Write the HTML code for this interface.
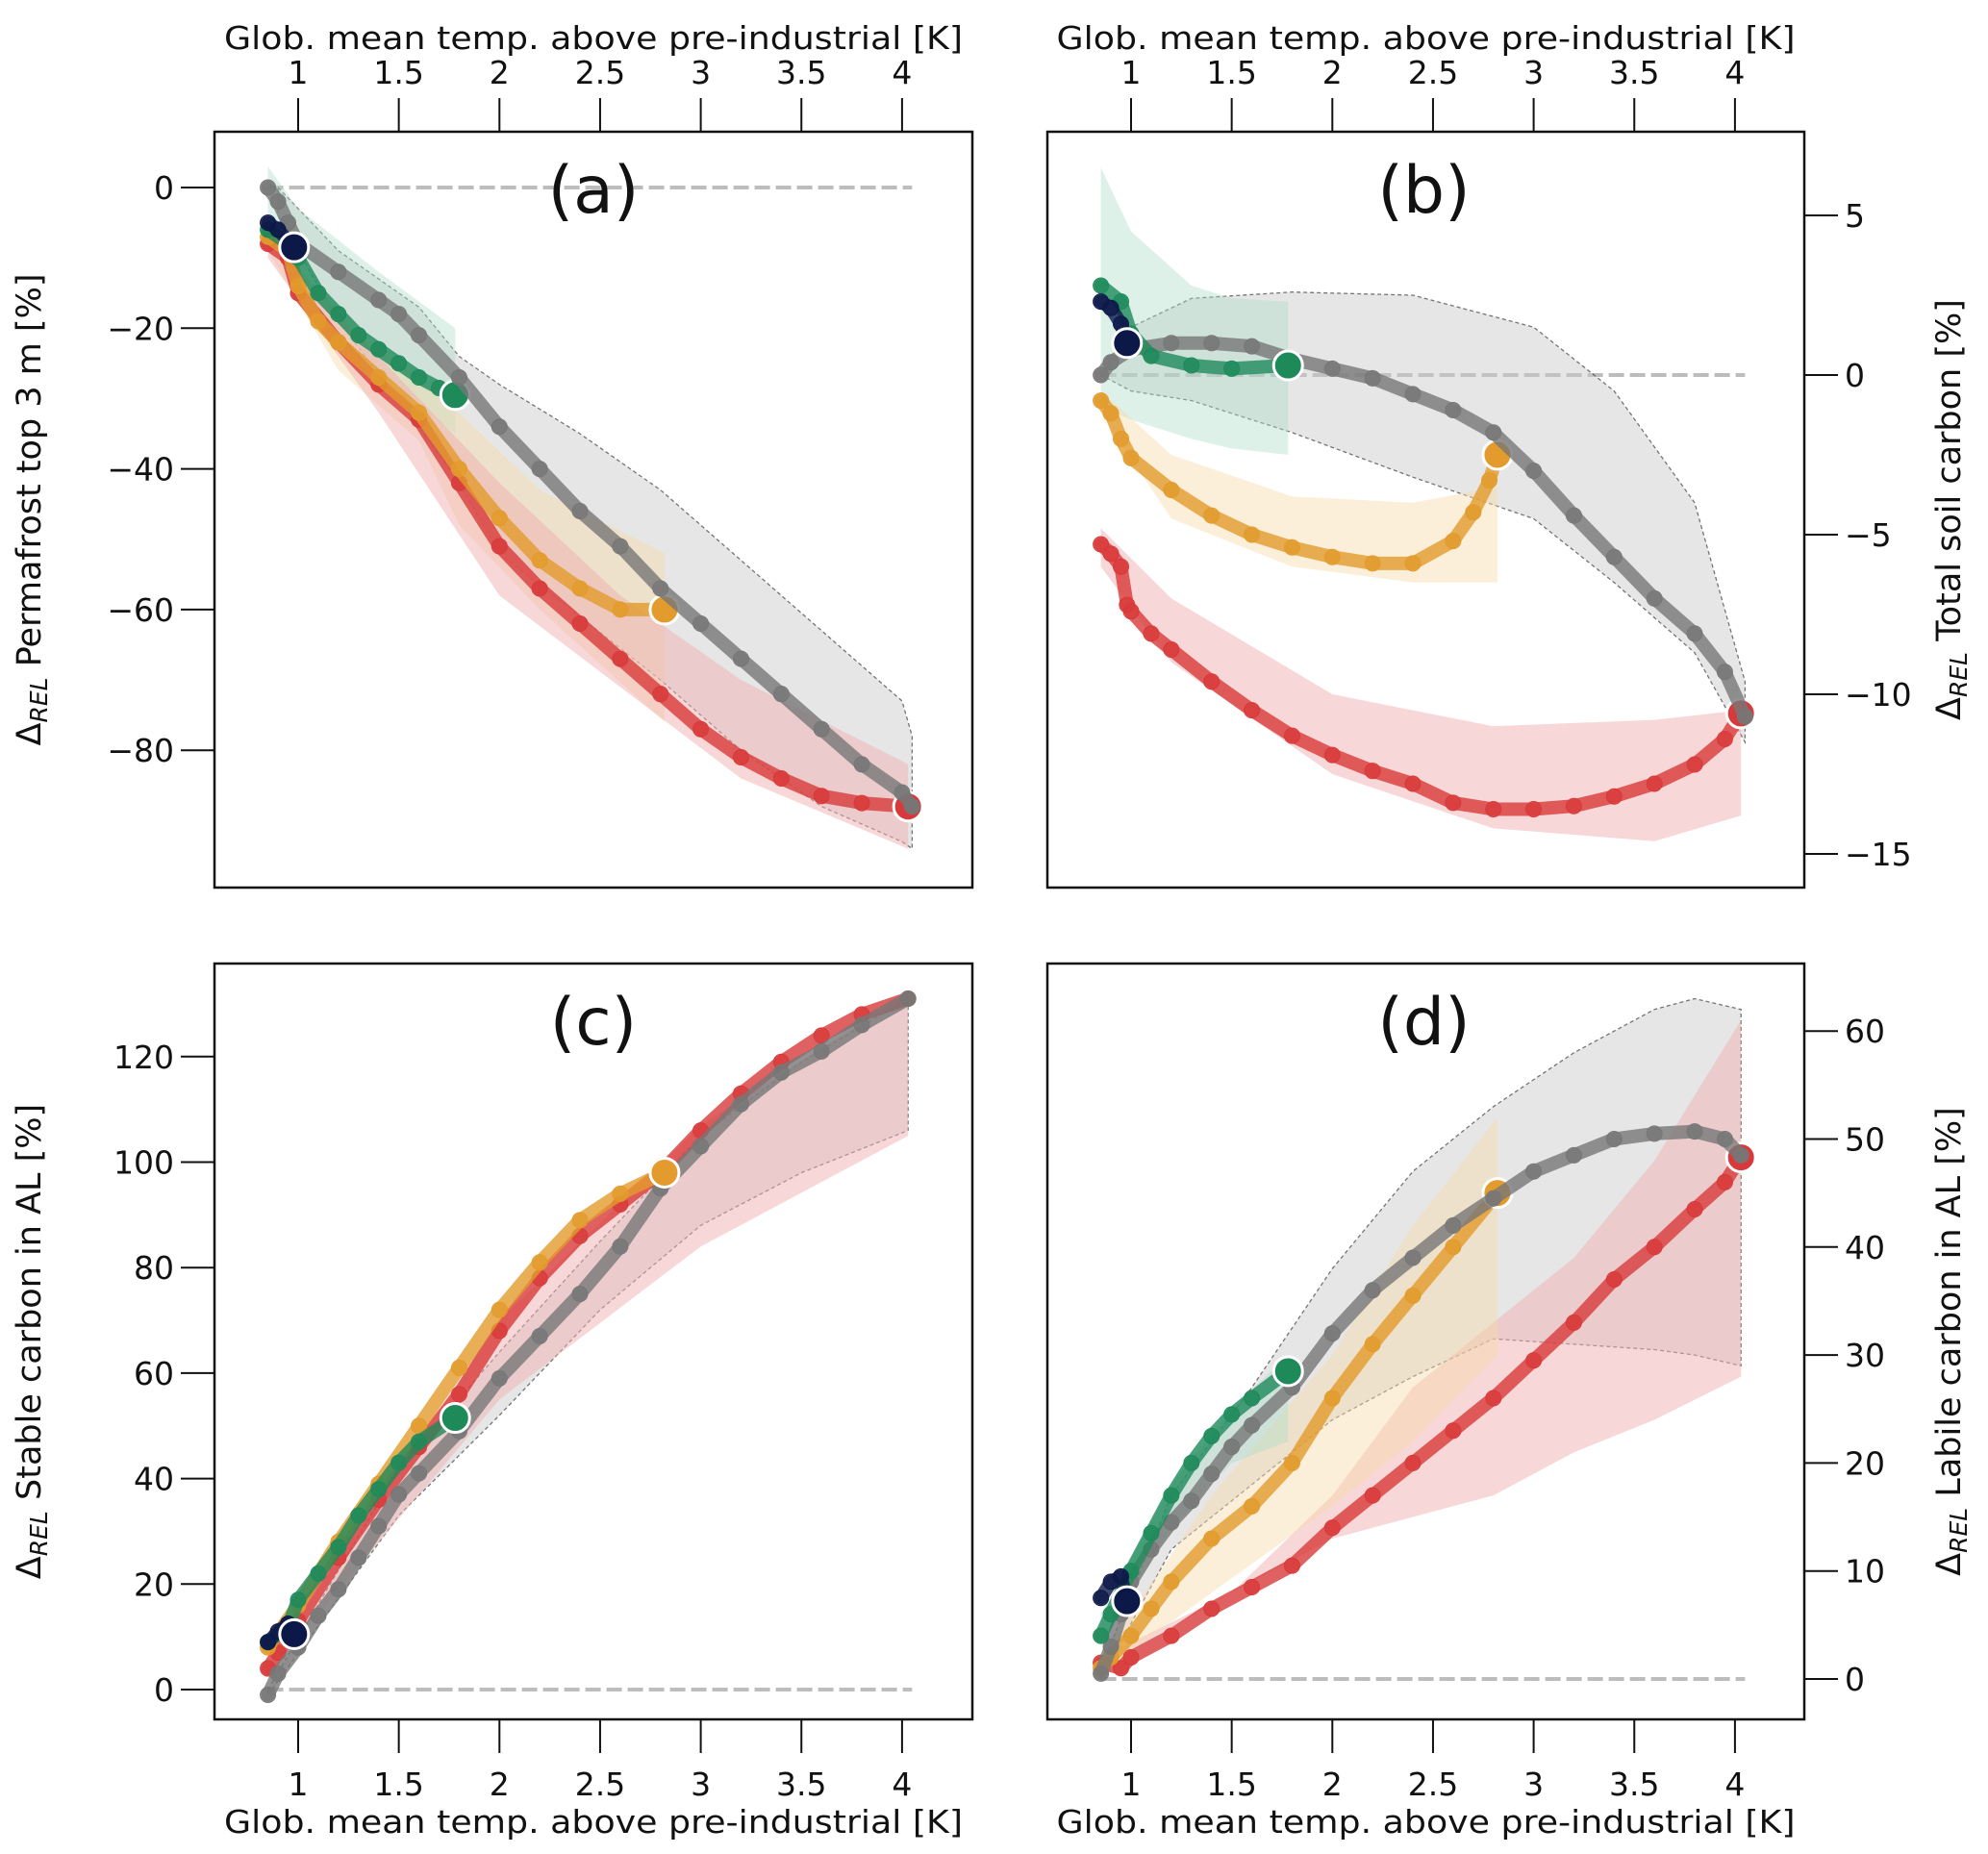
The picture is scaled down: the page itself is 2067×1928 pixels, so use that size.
<!DOCTYPE html>
<html><head><meta charset="utf-8"><style>
html,body{margin:0;padding:0;background:#fff}
svg{display:block}
text{font-family:"DejaVu Sans","Liberation Sans",sans-serif;fill:#111}
</style></head><body>
<svg id="fig" width="2067" height="1928" viewBox="0 0 2067 1928" xmlns="http://www.w3.org/2000/svg"></svg>
<script>
// ===== shared ticks =====
const xTicks = [1, 1.5, 2, 2.5, 3, 3.5, 4];
const xTickLabels = ["1", "1.5", "2", "2.5", "3", "3.5", "4"];

// ===== panel (a) =====
const aGrayX = [0.85,0.9,0.95,1.0,1.2,1.4,1.5,1.6,1.8,2.0,2.2,2.4,2.6,2.8,3.0,3.2,3.4,3.6,3.8,4.0,4.05];
const aGrayY = [0,-2,-5,-8,-12,-16,-18,-21,-27,-34,-40,-46,-51,-57,-62,-67,-72,-77,-82,-86,-88];
const aNavyX = [0.85,0.9,0.98];
const aNavyY = [-5,-6,-8.5];
const aGreenX = [0.85,0.95,1.0,1.1,1.2,1.3,1.4,1.5,1.6,1.7,1.78];
const aGreenY = [-6,-8,-10,-15,-18,-21,-23,-25,-27,-28.5,-29.5];
const aOrangeX = [0.85,0.95,1.0,1.1,1.2,1.4,1.6,1.8,2.0,2.2,2.4,2.6,2.82];
const aOrangeY = [-7,-9,-14,-19,-22,-27,-32,-40,-47,-53,-57,-60,-60];
const aRedX = [0.85,0.95,1.0,1.2,1.4,1.6,1.8,2.0,2.2,2.4,2.6,2.8,3.0,3.2,3.4,3.6,3.8,4.03];
const aRedY = [-8,-10,-15,-22,-28,-33,-42,-51,-57,-62,-67,-72,-77,-81,-84,-86.5,-87.5,-88];
const aGrayBandX = [0.9,1.2,1.6,1.8,2.0,2.4,2.8,3.2,3.6,4.0,4.05];
const aGrayBandHi = [0,-9,-17,-24,-28,-35,-43,-53,-63,-73,-78];
const aGrayBandLo = [-4,-19,-34,-42,-52,-61,-70,-80,-88,-93,-94];
const aGreenBandX = [0.85,1.0,1.4,1.78];
const aGreenBandHi = [3,-3,-12,-20];
const aGreenBandLo = [-6,-15,-27,-35];
const aOrangeBandX = [0.85,1.2,1.6,1.8,2.2,2.82];
const aOrangeBandHi = [-6,-18,-27,-32,-43,-52];
const aOrangeBandLo = [-9,-26,-36,-48,-60,-76];
const aRedBandX = [0.85,1.4,2.0,2.6,3.2,4.03];
const aRedBandHi = [-7,-24,-42,-58,-70,-82];
const aRedBandLo = [-10,-32,-58,-71,-84,-94];
const aYTicks = [0,-20,-40,-60,-80];

// ===== panel (b) =====
const bGrayX = [0.85,0.9,1.0,1.2,1.4,1.6,1.8,2.0,2.2,2.4,2.6,2.8,3.0,3.2,3.4,3.6,3.8,3.95,4.05];
const bGrayY = [0,0.4,0.8,1.0,1.0,0.9,0.5,0.2,-0.1,-0.6,-1.1,-1.8,-3.0,-4.4,-5.7,-7.0,-8.1,-9.3,-10.7];
const bNavyX = [0.85,0.9,0.95,0.98];
const bNavyY = [2.3,2.1,1.6,1.0];
const bGreenX = [0.85,0.95,1.0,1.1,1.3,1.5,1.78];
const bGreenY = [2.8,2.3,1.3,0.6,0.3,0.2,0.3];
const bOrangeX = [0.85,0.9,0.95,1.0,1.2,1.4,1.6,1.8,2.0,2.2,2.4,2.6,2.7,2.78,2.82];
const bOrangeY = [-0.8,-1.2,-2.0,-2.6,-3.6,-4.4,-5.0,-5.4,-5.7,-5.9,-5.9,-5.2,-4.3,-3.3,-2.5];
const bRedX = [0.85,0.9,0.95,0.98,1.0,1.1,1.2,1.4,1.6,1.8,2.0,2.2,2.4,2.6,2.8,3.0,3.2,3.4,3.6,3.8,3.95,4.03];
const bRedY = [-5.3,-5.6,-6.0,-7.2,-7.4,-8.1,-8.6,-9.6,-10.5,-11.3,-11.9,-12.4,-12.8,-13.4,-13.6,-13.6,-13.5,-13.2,-12.8,-12.2,-11.4,-10.6];
const bGrayBandX = [0.85,1.0,1.3,1.8,2.4,3.0,3.4,3.8,4.05];
const bGrayBandHi = [0,1.5,2.4,2.6,2.5,1.5,-0.5,-4,-9.6];
const bGrayBandLo = [0,-0.5,-0.8,-1.8,-3.2,-4.5,-6.5,-8.7,-11.5];
const bGreenBandX = [0.85,1.0,1.3,1.5,1.78];
const bGreenBandHi = [6.5,4.5,2.8,2.4,2.3];
const bGreenBandLo = [-1,-1.4,-2.0,-2.3,-2.5];
const bOrangeBandX = [0.85,1.2,1.8,2.4,2.82];
const bOrangeBandHi = [-0.5,-2.5,-3.8,-4.0,-3.5];
const bOrangeBandLo = [-1.2,-4.5,-6.0,-6.5,-6.5];
const bRedBandX = [0.85,1.2,2.0,2.8,3.6,4.03];
const bRedBandHi = [-4.8,-7,-10,-11,-10.8,-10.5];
const bRedBandLo = [-6,-9,-12.5,-14.2,-14.6,-13.8];
const bYTicks = [5,0,-5,-10,-15];

// ===== panel (c) =====
const cGrayX = [0.85,0.9,1.0,1.1,1.2,1.3,1.4,1.5,1.6,1.8,2.0,2.2,2.4,2.6,2.8,3.0,3.2,3.4,3.6,3.8,4.03];
const cGrayY = [-1,3,8,14,19,25,31,37,41,49,59,67,75,84,95,103,111,117,121,126,131];
const cNavyX = [0.85,0.9,0.95,0.98];
const cNavyY = [9,11,12.5,10.5];
const cGreenX = [0.85,0.95,1.0,1.1,1.2,1.3,1.4,1.5,1.6,1.78];
const cGreenY = [9,12,17,22,27,33,38,43,47,51.5];
const cOrangeX = [0.85,1.0,1.2,1.4,1.6,1.8,2.0,2.2,2.4,2.6,2.82];
const cOrangeY = [8,16,28,39,50,61,72,81,89,94,98];
const cRedX = [0.85,0.9,1.0,1.2,1.4,1.6,1.8,2.0,2.2,2.4,2.6,2.8,3.0,3.2,3.4,3.6,3.8,4.03];
const cRedY = [4,7,13,25,36,46,56,68,78,86,92,98,106,113,119,124,128,131];
const cGrayBandX = [0.85,1.5,2.0,2.5,3.0,3.5,4.03];
const cGrayBandHi = [0,42,64,85,105,119,131];
const cGrayBandLo = [-1,33,52,72,88,98,106];
const cRedBandX = [0.85,2.0,3.0,4.03];
const cRedBandHi = [5,70,107,132];
const cRedBandLo = [3,55,84,105];
const cYTicks = [0,20,40,60,80,100,120];

// ===== panel (d) =====
const dGrayX = [0.85,0.9,0.95,1.0,1.1,1.2,1.3,1.4,1.5,1.6,1.8,2.0,2.2,2.4,2.6,2.8,3.0,3.2,3.4,3.6,3.8,3.95,4.03];
const dGrayY = [0.5,3,6,9,12,14.5,16.5,19,21.5,23.5,27,32,36,39,42,44.5,47,48.5,50,50.5,50.7,50,48.5];
const dNavyX = [0.85,0.9,0.95,0.98];
const dNavyY = [7.5,9,9.5,7.2];
const dGreenX = [0.85,0.9,1.0,1.1,1.2,1.3,1.4,1.5,1.6,1.78];
const dGreenY = [4,6,10,13.5,17,20,22.5,24.5,26,28.5];
const dOrangeX = [0.85,0.9,1.0,1.1,1.2,1.4,1.6,1.8,2.0,2.2,2.4,2.6,2.82];
const dOrangeY = [1,2,4,6.5,9,13,16,20,26,31,35.5,40,45];
const dRedX = [0.85,0.95,1.0,1.2,1.4,1.6,1.8,2.0,2.2,2.4,2.6,2.8,3.0,3.2,3.4,3.6,3.8,3.95,4.03];
const dRedY = [1.5,1,2,4,6.5,8.5,10.5,14,17,20,23,26,29.5,33,37,40,43.5,46,48.3];
const dGrayBandX = [0.85,1.2,1.6,2.0,2.4,2.8,3.2,3.6,3.8,4.03];
const dGrayBandHi = [1,17,27,38,47,53,58,62,63,62];
const dGrayBandLo = [0,12,18,24,28,31.5,31,30.5,30,29];
const dGreenBandX = [0.85,1.2,1.5,1.78];
const dGreenBandHi = [6,18,25,30];
const dGreenBandLo = [3,14,20,22];
const dOrangeBandX = [0.85,1.4,2.0,2.4,2.82];
const dOrangeBandHi = [2,17,30,42,52];
const dOrangeBandLo = [0.5,8,16,22,30];
const dRedBandX = [0.85,1.5,2.0,2.4,2.8,3.2,3.6,4.03];
const dRedBandHi = [2,8,17,27,33,39,48,61];
const dRedBandLo = [1,8,13,15,17,21,24,28];
const dYTicks = [0,10,20,30,40,50,60];

const NS = "http://www.w3.org/2000/svg";
const svg = document.getElementById('fig');
function mk(tag, attrs, parent){const e=document.createElementNS(NS,tag);for(const k in attrs)e.setAttribute(k,attrs[k]);(parent||svg).appendChild(e);return e;}

const COL = {gray:'#777777', navy:'#0c1848', green:'#1e8a5a', orange:'#e29b2c', red:'#d8393a'};
const BAND = {gray:['#c8c8c8',0.45], green:['#a9dcc6',0.4], orange:['#f7dcaa',0.45], red:['#f0b0b0',0.5], navy:['#9aa3c2',0.4]};

function makeX(offset){ return v => offset + 310 + (v-1)*209.3; }

const panels = [
 {id:'a', L:223, T:137, R:1011, B:923, x:makeX(0), y:v=>195-(v/20)*146.3, ticks:aYTicks, side:'left', top:true,
  ylab:' Permafrost top 3 m [%]', noEnd:[],
  bands:[['gray',aGrayBandX,aGrayBandHi,aGrayBandLo,true],['green',aGreenBandX,aGreenBandHi,aGreenBandLo],['orange',aOrangeBandX,aOrangeBandHi,aOrangeBandLo],['red',aRedBandX,aRedBandHi,aRedBandLo]],
  series:[['red',aRedX,aRedY],['orange',aOrangeX,aOrangeY],['green',aGreenX,aGreenY],['gray',aGrayX,aGrayY],['navy',aNavyX,aNavyY]]},
 {id:'b', L:1089, T:137, R:1876, B:923, x:makeX(866), y:v=>390-(v/5)*166, ticks:bYTicks, side:'right', top:true,
  ylab:' Total soil carbon [%]', noEnd:[],
  bands:[['gray',bGrayBandX,bGrayBandHi,bGrayBandLo,true],['green',bGreenBandX,bGreenBandHi,bGreenBandLo],['orange',bOrangeBandX,bOrangeBandHi,bOrangeBandLo],['red',bRedBandX,bRedBandHi,bRedBandLo]],
  series:[['red',bRedX,bRedY],['orange',bOrangeX,bOrangeY],['gray',bGrayX,bGrayY],['green',bGreenX,bGreenY],['navy',bNavyX,bNavyY]]},
 {id:'c', L:223, T:1002, R:1011, B:1788, x:makeX(0), y:v=>1757-(v/20)*109.7, ticks:cYTicks, side:'left', top:false,
  ylab:' Stable carbon in AL [%]', noEnd:['red'],
  bands:[['gray',cGrayBandX,cGrayBandHi,cGrayBandLo,true],['red',cRedBandX,cRedBandHi,cRedBandLo]],
  series:[['red',cRedX,cRedY],['gray',cGrayX,cGrayY],['orange',cOrangeX,cOrangeY],['green',cGreenX,cGreenY],['navy',cNavyX,cNavyY]]},
 {id:'d', L:1089, T:1002, R:1876, B:1788, x:makeX(866), y:v=>1746-(v/10)*112.3, ticks:dYTicks, side:'right', top:false,
  ylab:' Labile carbon in AL [%]', noEnd:[],
  bands:[['gray',dGrayBandX,dGrayBandHi,dGrayBandLo,true],['red',dRedBandX,dRedBandHi,dRedBandLo],['orange',dOrangeBandX,dOrangeBandHi,dOrangeBandLo],['green',dGreenBandX,dGreenBandHi,dGreenBandLo]],
  series:[['red',dRedX,dRedY],['orange',dOrangeX,dOrangeY],['gray',dGrayX,dGrayY],['green',dGreenX,dGreenY],['navy',dNavyX,dNavyY]]}
];

panels.forEach(p=>{
  const g = mk('g',{});
  
  
  const z = mk('line',{x1:p.x(0.85),x2:p.x(4.05),y1:p.y(0),y2:p.y(0),stroke:'#bdbdbd','stroke-width':4,'stroke-dasharray':'16 6'},g);
  
  
  p.bands.forEach(b=>{
    const [c,X,H,Lo,outline]=b;
    let d='M'+X.map((v,i)=>p.x(v).toFixed(1)+','+p.y(H[i]).toFixed(1)).join('L');
    for(let i=X.length-1;i>=0;i--) d+='L'+p.x(X[i]).toFixed(1)+','+p.y(Lo[i]).toFixed(1);
    d+='Z';
    const e = mk('path',{d:d,fill:BAND[c][0],'fill-opacity':BAND[c][1],stroke:outline?'#555':'none','stroke-width':outline?1.3:0,'stroke-dasharray':'4 3','stroke-opacity':0.8},g);
    
    
  });
  p.series.forEach(s=>{
    const [c,X,Y]=s;
    const sg = mk('g',{},g);
    
    
    const pts = X.map((v,i)=>p.x(v).toFixed(1)+','+p.y(Y[i]).toFixed(1)).join(' ');
    const pl = mk('polyline',{points:pts,fill:'none',stroke:COL[c],'stroke-width':14,'stroke-linecap':'round','stroke-linejoin':'round','stroke-opacity':0.8},sg);
    
    
    X.forEach((v,i)=>{
      const dot = mk('circle',{cx:p.x(v),cy:p.y(Y[i]),r:8,fill:COL[c],'fill-opacity':0.8,stroke:COL[c],'stroke-width':1},sg);
      
      
    });
    if(c!=='gray' && p.noEnd.indexOf(c)<0){
      const n=X.length-1;
      const end = mk('circle',{cx:p.x(X[n]),cy:p.y(Y[n]),r:15,fill:COL[c],stroke:'#fff','stroke-width':3},sg);
      
      
    }
  });
  const fr = mk('rect',{x:p.L,y:p.T,width:p.R-p.L,height:p.B-p.T,fill:'none',stroke:'#111','stroke-width':2.5},g);
  
  
  const pt = mk('text',{x:(p.L+p.R)/2+(p.L>1000?-2:0),y:p.T+84,'font-size':68,'text-anchor':'middle'},g);
  pt.textContent='('+p.id+')';
  
  
  xTicks.forEach((v,i)=>{
    const X=p.x(v);
    const y0 = p.top? p.T : p.B;
    const y1 = p.top? p.T-35 : p.B+35;
    const t=mk('line',{x1:X,x2:X,y1:y0,y2:y1,stroke:'#111','stroke-width':2},g);
    
    
    const tl=mk('text',{x:X,y:p.top?87:1867,'font-size':33,'text-anchor':'middle'},g);
    tl.textContent=xTickLabels[i];
    
    
  });
  const xt=mk('text',{x:(p.L+p.R)/2,y:p.top?51:1906,'font-size':33,'text-anchor':'middle',textLength:768,lengthAdjust:'spacingAndGlyphs'},g);
  xt.textContent='Glob. mean temp. above pre-industrial [K]';
  
  
  p.ticks.forEach(v=>{
    const Y=p.y(v);
    const x0 = p.side==='left'? p.L : p.R;
    const x1 = p.side==='left'? p.L-35 : p.R+35;
    const t=mk('line',{x1:x0,x2:x1,y1:Y,y2:Y,stroke:'#111','stroke-width':2},g);
    
    
    const tl=mk('text',{x:p.side==='left'?p.L-42:p.R+42,y:Y+12,'font-size':33,'text-anchor':p.side==='left'?'end':'start'},g);
    tl.textContent=(v<0?'\u2212'+(-v):String(v));
    
    
  });
  const cx = p.side==='left'? 42 : 2038;
  const cy = (p.T+p.B)/2;
  const yt=mk('text',{x:cx,y:cy,'font-size':35,'text-anchor':'middle',transform:'rotate(-90 '+cx+' '+cy+')'},g);
  
  
  const t1=mk('tspan',{},yt); t1.textContent='Δ';
  const t2=mk('tspan',{'font-size':25,'font-style':'italic',dy:7},yt); t2.textContent='REL';
  const t3=mk('tspan',{dy:-7},yt); t3.textContent=p.ylab;
});
</script>
</body></html>
